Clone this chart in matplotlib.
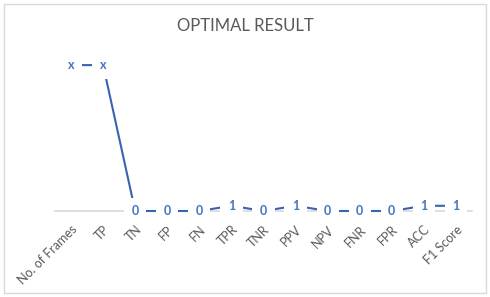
import matplotlib.pyplot as plt
from matplotlib.patches import Rectangle

# Datos del grafico
categorias = ['No. of Frames', 'TP', 'TN', 'FP', 'FN', 'TPR', 'TNR', 'PPV',
              'NPV', 'FNR', 'FPR', 'ACC', 'F1 Score']
valores = [28, 28, 0, 0, 0, 1, 0, 1, 0, 0, 0, 1, 1]
etiquetas = ['x', 'x', '0', '0', '0', '1', '0', '1', '0', '0', '0', '1', '1']

plt.rcParams['font.family'] = ['Lato', 'DejaVu Sans']

azul = '#4472C4'
gris = '#595959'

fig = plt.figure(figsize=(4.9, 2.97), dpi=100)
ax = fig.add_axes([55 / 490, 1 - 211 / 297, 417 / 490, 161 / 297])

# Borde exterior del grafico
fig.patches.append(Rectangle((4 / 490, 4 / 297), 482 / 490, 289 / 297,
                             transform=fig.transFigure, fill=False,
                             edgecolor='#D9D9D9', linewidth=1))

x = list(range(len(categorias)))
ax.plot(x, valores, color='#3A62B0', linewidth=1.5, clip_on=False, zorder=2)

# Etiquetas de datos con fondo blanco
for xi, yi, et in zip(x, valores, etiquetas):
    ax.annotate(et, (xi, yi), ha='center', va='center', fontsize=9,
                color=azul, fontweight='bold', zorder=3, annotation_clip=False,
                bbox=dict(boxstyle='square,pad=0.6', fc='white', ec='none'))

ax.set_xlim(-0.5, len(categorias) - 0.5)
ax.set_ylim(0, 30.9)

for s in ['top', 'right', 'left']:
    ax.spines[s].set_visible(False)
ax.spines['bottom'].set_color('#D9D9D9')
ax.spines['bottom'].set_linewidth(1.2)
ax.spines['bottom'].set_zorder(1)
ax.set_yticks([])
ax.set_xticks(x)
ax.set_xticklabels(categorias, rotation=45, ha='right', va='top',
                   rotation_mode='anchor', fontsize=9, color=gris)
ax.tick_params(axis='x', length=0, pad=9)

fig.text(0.5, 1 - 26 / 297, 'OPTIMAL RESULT', ha='center', va='center',
         fontsize=12, color=gris)

fig.savefig('out.png', dpi=100)
